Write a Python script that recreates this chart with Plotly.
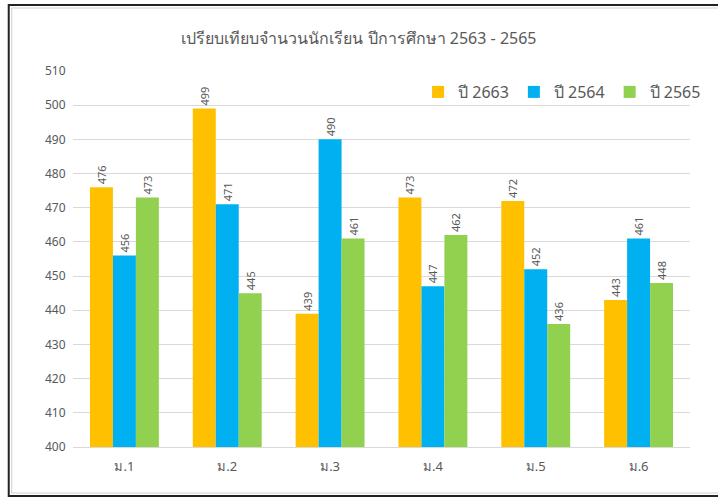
import plotly.graph_objects as go

categories = ["ม.1", "ม.2", "ม.3", "ม.4", "ม.5", "ม.6"]
series_names = ["ปี 2663", "ปี 2564", "ปี 2565"]
values_2563 = [476, 499, 439, 473, 472, 443]
values_2564 = [456, 471, 490, 447, 452, 461]
values_2565 = [473, 445, 461, 462, 436, 448]
colors = ["#FFC000", "#00B0F0", "#92D050"]
title_text = "เปรียบเทียบจำนวนนักเรียน ปีการศึกษา 2563 - 2565"

W, H = 718, 498
L, R, T, B = 73, 21, 71, 51
pw, ph = W - L - R, H - T - B

def px_x(x):
    return (x - L) / pw

def px_y(y):
    return (H - B - y) / ph

def open_frame(xl, xr, yt, yb):
    return (f"M {px_x(xr)} {px_y(yb)} L {px_x(xl)} {px_y(yb)} "
            f"L {px_x(xl)} {px_y(yt)} L {px_x(xr)} {px_y(yt)}")

FONT = "Noto Sans, Open Sans, DejaVu Sans, sans-serif"
GRAY = "#595959"

fig = go.Figure()
for name, vals, col in zip(series_names, [values_2563, values_2564, values_2565], colors):
    fig.add_trace(go.Bar(
        x=categories, y=vals, name=name, marker=dict(color=col, line=dict(width=0)),
        text=[str(v) for v in vals], textposition="outside", textangle=-90,
        textfont=dict(size=11, color=GRAY, family=FONT), cliponaxis=False,
    ))

fig.update_layout(
    width=W, height=H,
    margin=dict(l=L, r=R, t=T, b=B),
    paper_bgcolor="white", plot_bgcolor="white",
    barmode="group", bargap=0.33, bargroupgap=0,
    title=dict(text=title_text, x=0.5, xref="container", xanchor="center",
               y=1 - 38 / H, yref="container", yanchor="middle",
               font=dict(size=16, color=GRAY, family=FONT)),
    legend=dict(orientation="h", x=px_x(422), y=px_y(92), xanchor="left", yanchor="middle",
                font=dict(size=16, color=GRAY, family=FONT), bgcolor="rgba(0,0,0,0)",
                itemwidth=30, traceorder="normal"),
    font=dict(family=FONT, color=GRAY),
    xaxis=dict(showgrid=False, showline=True, linecolor="#D9D9D9", linewidth=1,
               ticks="outside", ticklen=7, tickcolor="rgba(0,0,0,0)",
               tickfont=dict(size=13, color=GRAY, family=FONT)),
    yaxis=dict(range=[400, 510], dtick=10, showgrid=True, gridcolor="#D9D9D9", gridwidth=1,
               zeroline=False, showline=False, ticks="outside", ticklen=4,
               tickcolor="rgba(0,0,0,0)",
               tickfont=dict(size=12, color=GRAY, family=FONT)),
    shapes=[
        dict(type="path", xref="paper", yref="paper", path=open_frame(8, 730, 5, 496),
             line=dict(color="#222222", width=2), layer="above"),
        dict(type="path", xref="paper", yref="paper", path=open_frame(11, 730, 8, 493),
             line=dict(color="#D0D0D0", width=1), layer="above"),
    ],
)

fig.write_html(
    "out.html",
    config={"displayModeBar": False},
    post_script="document.body.style.margin='0';document.body.style.overflow='hidden';",
)
